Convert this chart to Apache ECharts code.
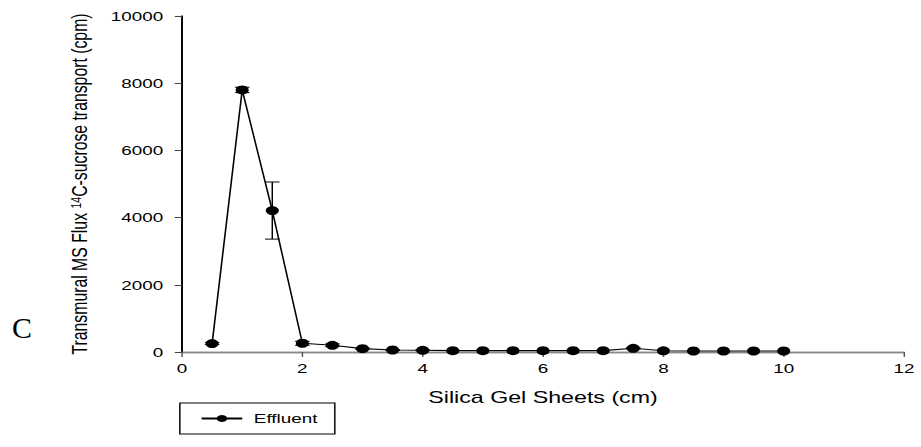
<!DOCTYPE html>
<html>
<head>
<meta charset="utf-8">
<script src="https://cdn.jsdelivr.net/npm/echarts@6/dist/echarts.min.js"></script>
<style>
  html, body { margin: 0; padding: 0; background: #fff; overflow: hidden; }
  #wrap { width: 921px; height: 447px; overflow: hidden; }
  /* the figure is drawn on a narrower canvas and widened horizontally */
  #chart { width: 635px; height: 447px; transform: scaleX(1.4504); transform-origin: 0 0; }
</style>
</head>
<body>
<div id="wrap"><div id="chart"></div></div>
<script>
// Silica gel sheet position (cm)
const sheets = [0.5, 1, 1.5, 2, 2.5, 3, 3.5, 4, 4.5, 5, 5.5, 6, 6.5, 7, 7.5, 8, 8.5, 9, 9.5, 10];
// Effluent 14C-sucrose flux (cpm), mean
const flux = [250, 7800, 4210, 260, 200, 100, 60, 50, 40, 40, 40, 40, 40, 40, 110, 35, 30, 30, 30, 30];
// Standard error (cpm)
const fluxErr = [30, 80, 850, 60, 40, 20, 10, 10, 0, 0, 0, 0, 0, 0, 20, 0, 0, 0, 0, 0];
const xTicks = [0, 2, 4, 6, 8, 10, 12];
const yTicks = [0, 2000, 4000, 6000, 8000, 10000];

const STRETCH = 1.4504;
const FONT = 'Liberation Sans, Arial, sans-serif';

const chart = echarts.init(document.getElementById('chart'), null, { renderer: 'svg' });

const lineData = sheets.map((x, i) => [x, flux[i]]);
const errData = sheets.map((x, i) => [x, flux[i], fluxErr[i]]);

function renderErrorBar(params, api) {
  const x = api.value(0), v = api.value(1), e = api.value(2);
  if (!e) return null;
  const top = api.coord([x, v + e]);
  const bot = api.coord([x, v - e]);
  const hw = 5;
  const st = { stroke: '#000', lineWidth: 1 };
  return {
    type: 'group',
    children: [
      { type: 'line', shape: { x1: top[0], y1: top[1], x2: bot[0], y2: bot[1] }, style: st },
      { type: 'line', shape: { x1: top[0] - hw, y1: top[1], x2: top[0] + hw, y2: top[1] }, style: st },
      { type: 'line', shape: { x1: bot[0] - hw, y1: bot[1], x2: bot[0] + hw, y2: bot[1] }, style: st }
    ]
  };
}

const option = {
  backgroundColor: '#fff',
  animation: false,
  grid: { left: 125.5, right: 11.7, top: 16, bottom: 95 },
  legend: {
    data: ['Effluent'],
    left: 124, top: 403,
    borderColor: '#000', borderWidth: 1, borderRadius: 0,
    padding: [9, 12, 9, 14],
    itemWidth: 28, itemHeight: 9,
    textStyle: { fontSize: 13, fontFamily: FONT, color: '#000', padding: [0, 0, 0, 3] }
  },
  xAxis: [{
    type: 'value', min: 0, max: 12, interval: 2,
    name: 'Silica Gel Sheets (cm)', nameLocation: 'middle', nameGap: 37,
    nameTextStyle: { fontSize: 16, fontFamily: FONT, color: '#000' },
    axisLine: { lineStyle: { color: '#888', width: 1.4 } },
    axisTick: { show: true, inside: false, length: 5, lineStyle: { color: '#555' } },
    axisLabel: { fontSize: 13, fontFamily: FONT, color: '#000', margin: 10,
      formatter: v => xTicks.includes(v) ? String(v) : '' },
    splitLine: { show: false }
  }, {
    type: 'value', position: 'top', min: 0, max: 12,
    axisLine: { show: true, lineStyle: { color: '#888', width: 1.4 } },
    axisTick: { show: false }, axisLabel: { show: false }, splitLine: { show: false }
  }],
  yAxis: [{
    type: 'value', min: 0, max: 10000, interval: 2000,
    name: 'Transmural MS Flux {sup|14}C-sucrose transport (cpm)',
    nameLocation: 'middle', nameGap: 63, nameRotate: 90,
    nameTextStyle: {
      fontSize: 15.8, fontFamily: FONT, color: '#000',
      rich: { sup: { fontSize: 10.5, fontFamily: FONT, color: '#000', verticalAlign: 'top' } }
    },
    axisLine: { show: true, lineStyle: { color: '#222', width: 1.2 } },
    axisTick: { show: true, inside: false, length: 5, lineStyle: { color: '#444' } },
    axisLabel: { fontSize: 13, fontFamily: FONT, color: '#000', margin: 13,
      formatter: v => yTicks.includes(v) ? String(v) : '' },
    splitLine: { show: false }
  }, {
    type: 'value', position: 'right', min: 0, max: 10000,
    axisLine: { show: true, lineStyle: { color: '#000', width: 1.2 } },
    axisTick: { show: false }, axisLabel: { show: false }, splitLine: { show: false }
  }],
  graphic: [{
    type: 'text',
    x: 12 / STRETCH, y: 327,
    scaleX: 1 / STRETCH,
    style: { text: 'C', fontSize: 30, fontFamily: 'Liberation Serif, Times New Roman, serif',
      fill: '#000', verticalAlign: 'middle', align: 'left' }
  }],
  series: [{
    name: 'Effluent',
    type: 'line',
    data: lineData,
    symbol: 'circle', symbolSize: 9,
    itemStyle: { color: '#000' },
    lineStyle: { color: '#000', width: 1.1 },
    z: 3
  }, {
    name: 'Effluent SE',
    type: 'custom',
    data: errData,
    renderItem: renderErrorBar,
    z: 4
  }]
};

chart.setOption(option);
</script>
</body>
</html>
